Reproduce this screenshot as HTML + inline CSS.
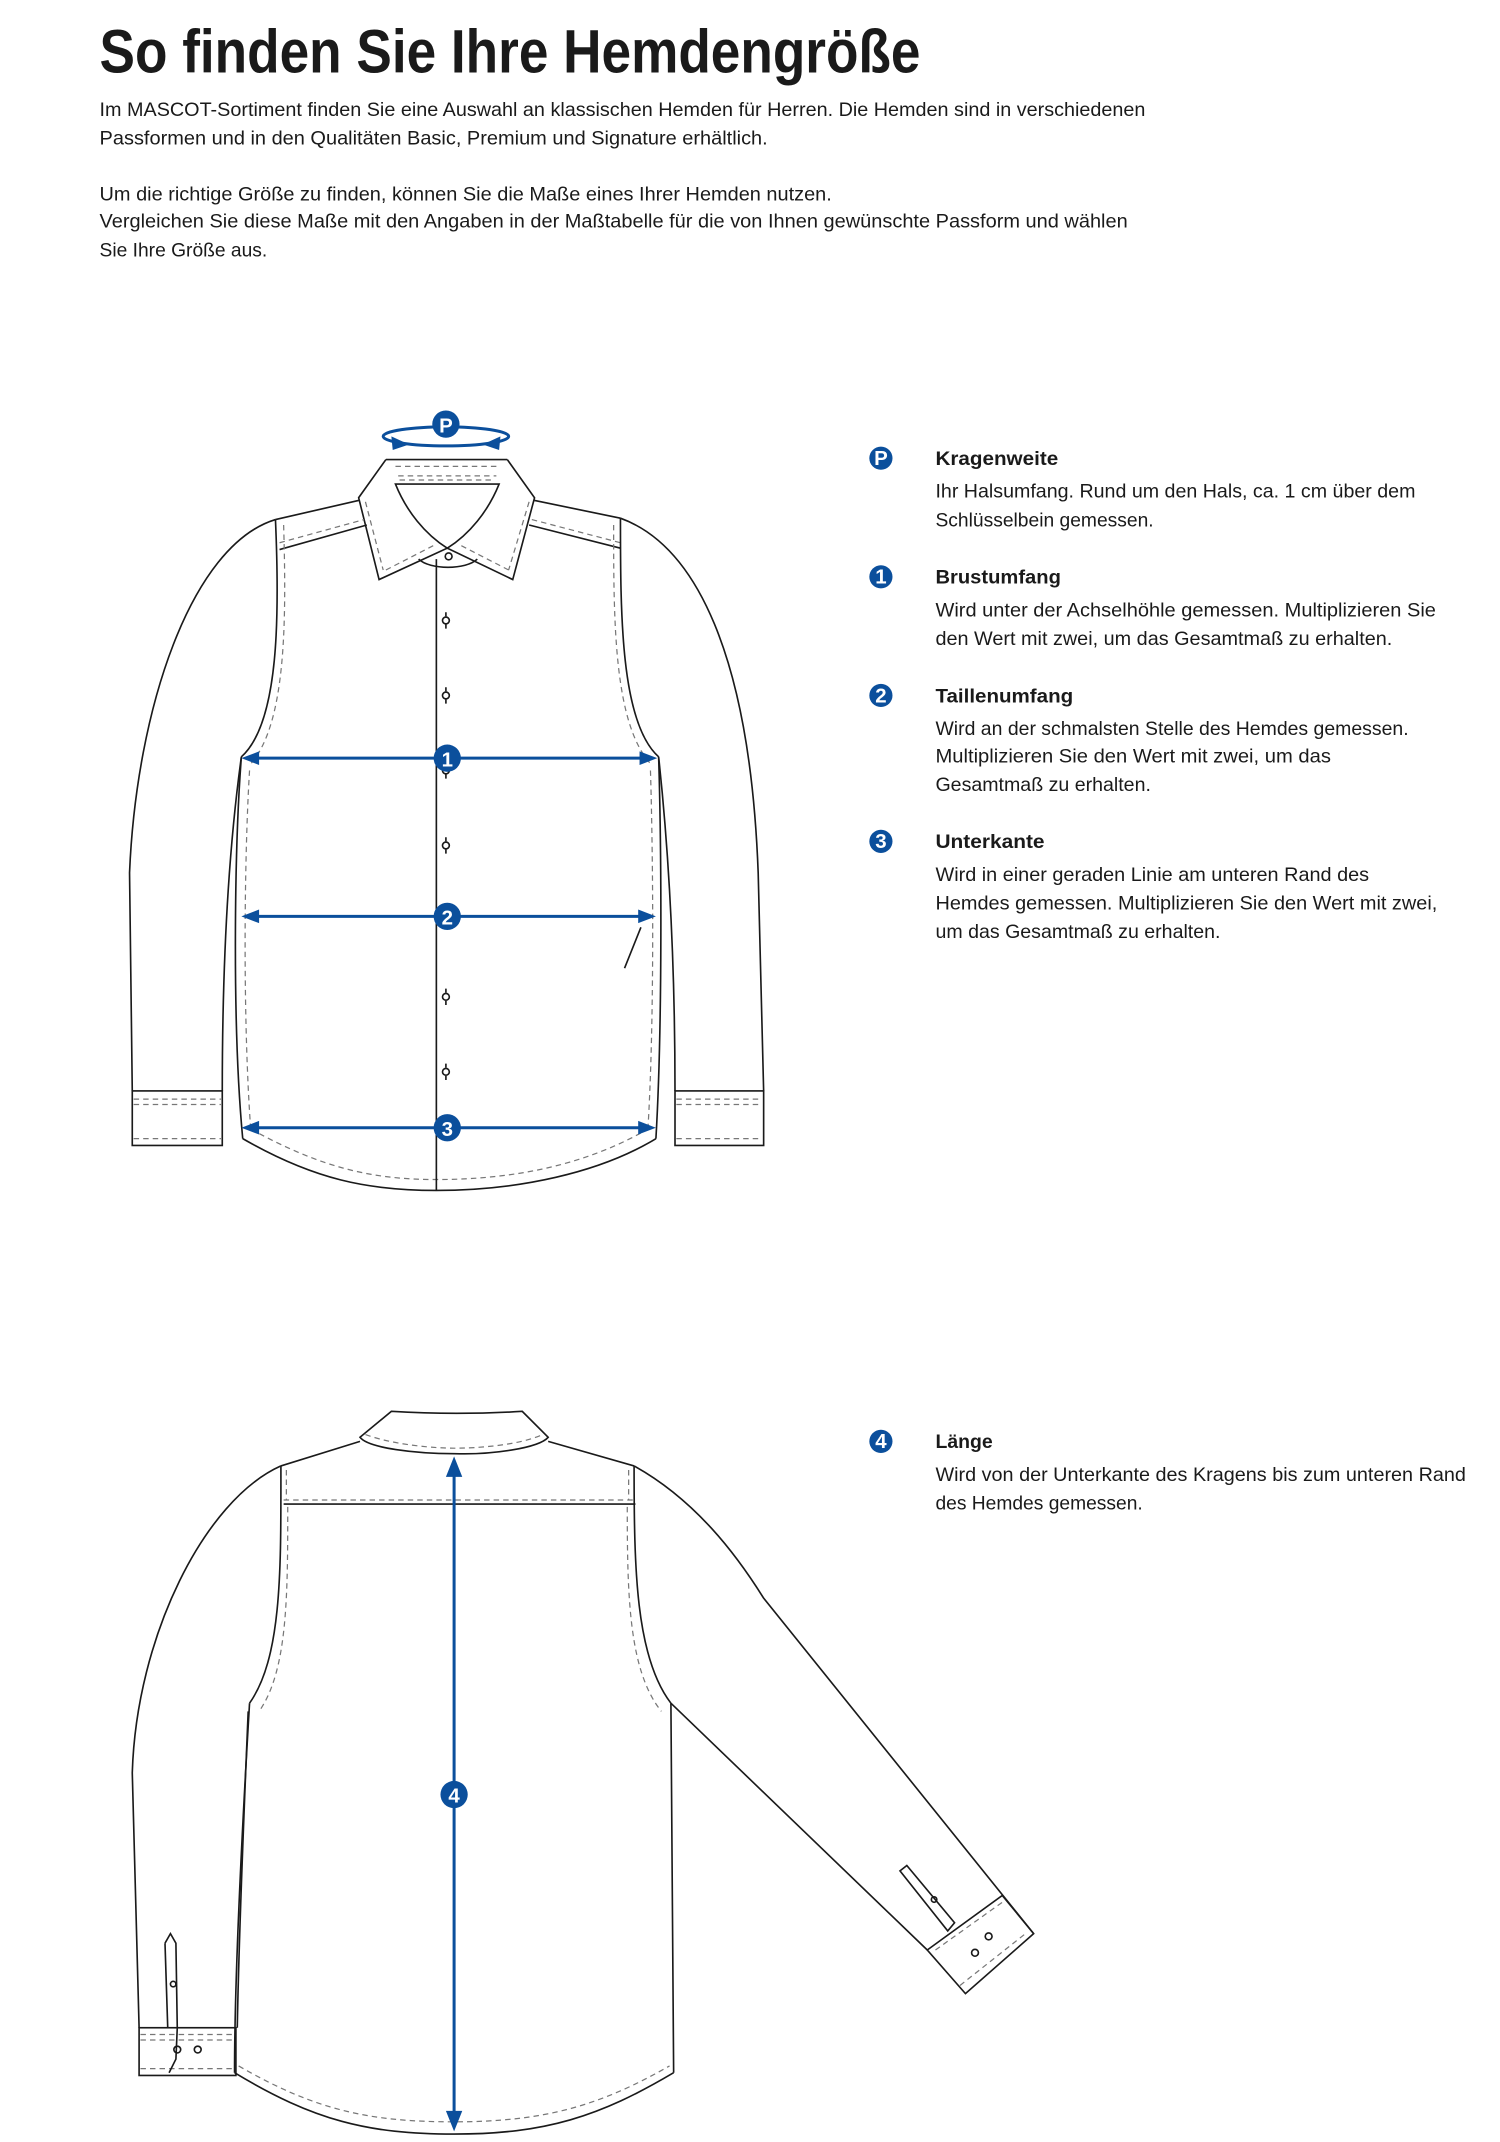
<!DOCTYPE html>
<html><head><meta charset="utf-8"><style>
html,body{margin:0;padding:0;background:#fff;width:1500px;height:2142px;overflow:hidden}
svg{display:block}
text{font-family:"Liberation Sans",sans-serif;fill:#1a1a1a}
.b{font-size:14.5px}
.h{font-size:14.5px;font-weight:bold}
.s{fill:none;stroke:#1a1a1a;stroke-width:1.2}
.d{fill:none;stroke:#777;stroke-width:0.9;stroke-dasharray:4 3}
.a{stroke:#0b4f9c;stroke-width:2.2;fill:none}
.af{fill:#0b4f9c}
.n{fill:#fff;font-weight:bold;font-size:15px;text-anchor:middle}
</style></head><body>
<svg width="1500" height="2142" viewBox="0 0 1500 2142">
<g transform="scale(1.36364)">
<text x="73" y="53" font-size="45" font-weight="bold" textLength="602" lengthAdjust="spacingAndGlyphs">So finden Sie Ihre Hemdengröße</text>
<text class="b" x="73" y="85" textLength="767" lengthAdjust="spacingAndGlyphs">Im MASCOT-Sortiment finden Sie eine Auswahl an klassischen Hemden für Herren. Die Hemden sind in verschiedenen</text>
<text class="b" x="73" y="106" textLength="490" lengthAdjust="spacingAndGlyphs">Passformen und in den Qualitäten Basic, Premium und Signature erhältlich.</text>
<text class="b" x="73" y="147" textLength="537" lengthAdjust="spacingAndGlyphs">Um die richtige Größe zu finden, können Sie die Maße eines Ihrer Hemden nutzen.</text>
<text class="b" x="73" y="167" textLength="754" lengthAdjust="spacingAndGlyphs">Vergleichen Sie diese Maße mit den Angaben in der Maßtabelle für die von Ihnen gewünschte Passform und wählen</text>
<text class="b" x="73" y="188" textLength="123" lengthAdjust="spacingAndGlyphs">Sie Ihre Größe aus.</text>

<g>
<circle cx="646" cy="336" r="8.5" class="af"/><text class="n" x="646" y="341" font-size="12">P</text>
<text class="h" x="686" y="341" textLength="90" lengthAdjust="spacingAndGlyphs">Kragenweite</text>
<text class="b" x="686" y="365" textLength="352" lengthAdjust="spacingAndGlyphs">Ihr Halsumfang. Rund um den Hals, ca. 1 cm über dem</text>
<text class="b" x="686" y="386" textLength="160" lengthAdjust="spacingAndGlyphs">Schlüsselbein gemessen.</text>

<circle cx="646" cy="423" r="8.5" class="af"/><text class="n" x="646" y="428" font-size="12">1</text>
<text class="h" x="686" y="428" textLength="92" lengthAdjust="spacingAndGlyphs">Brustumfang</text>
<text class="b" x="686" y="452" textLength="367" lengthAdjust="spacingAndGlyphs">Wird unter der Achselhöhle gemessen. Multiplizieren Sie</text>
<text class="b" x="686" y="473" textLength="335" lengthAdjust="spacingAndGlyphs">den Wert mit zwei, um das Gesamtmaß zu erhalten.</text>

<circle cx="646" cy="510" r="8.5" class="af"/><text class="n" x="646" y="515" font-size="12">2</text>
<text class="h" x="686" y="515" textLength="101" lengthAdjust="spacingAndGlyphs">Taillenumfang</text>
<text class="b" x="686" y="539" textLength="347" lengthAdjust="spacingAndGlyphs">Wird an der schmalsten Stelle des Hemdes gemessen.</text>
<text class="b" x="686" y="559" textLength="290" lengthAdjust="spacingAndGlyphs">Multiplizieren Sie den Wert mit zwei, um das</text>
<text class="b" x="686" y="580" textLength="158" lengthAdjust="spacingAndGlyphs">Gesamtmaß zu erhalten.</text>

<circle cx="646" cy="617" r="8.5" class="af"/><text class="n" x="646" y="622" font-size="12">3</text>
<text class="h" x="686" y="622" textLength="80" lengthAdjust="spacingAndGlyphs">Unterkante</text>
<text class="b" x="686" y="646" textLength="318" lengthAdjust="spacingAndGlyphs">Wird in einer geraden Linie am unteren Rand des</text>
<text class="b" x="686" y="667" textLength="368" lengthAdjust="spacingAndGlyphs">Hemdes gemessen. Multiplizieren Sie den Wert mit zwei,</text>
<text class="b" x="686" y="688" textLength="209" lengthAdjust="spacingAndGlyphs">um das Gesamtmaß zu erhalten.</text>

<circle cx="646" cy="1057" r="8.5" class="af"/><text class="n" x="646" y="1062" font-size="12">4</text>
<text class="h" x="686" y="1062" textLength="42" lengthAdjust="spacingAndGlyphs">Länge</text>
<text class="b" x="686" y="1086" textLength="389" lengthAdjust="spacingAndGlyphs">Wird von der Unterkante des Kragens bis zum unteren Rand</text>
<text class="b" x="686" y="1107" textLength="152" lengthAdjust="spacingAndGlyphs">des Hemdes gemessen.</text>
</g>

<!-- FRONT SHIRT -->
<g>
<path class="s" d="M283,337 L372,337"/>
<path class="s" d="M283,337 L263,365 L278,425 L328,402 L376,425 L392,365 L372,337"/>
<path class="s" d="M290,355 C298,375 312,392 328,402 C344,392 358,375 366,355 Z"/>
<path class="d" d="M290,342 L366,342 M292,349 L364,349 M293,352 L363,352"/>
<path class="d" d="M268,368 L281,418 M388,368 L373,418 M283,418 L318,400 M373,418 L338,400"/>
<path class="s" d="M307,410 C315,418 342,418 350,410"/>
<circle cx="329" cy="408" r="2.5" class="s"/>
<path class="s" d="M263,367 L202,381 M392,367 L455,380"/>
<path class="s" d="M205,403 L269,385 M388,385 L455,402"/>
<path class="d" d="M205,398 L267,381 M390,381 L455,398"/>
<path class="s" d="M202,381 C205,450 205,530 177,555 M455,380 C455,450 455,530 483,555"/>
<path class="d" d="M208,385 C210,455 210,530 184,560 M450,385 C450,455 450,530 477,560"/>
<path class="s" d="M177,555 C172,620 170,750 178,835 M483,555 C485,620 486,750 481,835"/>
<path class="d" d="M183,565 C179,630 178,750 184,830 M477,565 C479,630 480,750 475,830"/>
<path class="s" d="M178,835 C230,865 270,873 320,873 C380,873 440,860 481,835"/>
<path class="d" d="M184,828 C235,856 272,865 320,865 C380,865 432,853 475,828"/>
<path class="s" d="M320,410 L320,873"/>
<g class="s">
<circle cx="327" cy="455" r="2.5"/><circle cx="327" cy="510" r="2.5"/><circle cx="327" cy="565" r="2.5"/><circle cx="327" cy="620" r="2.5"/><circle cx="327" cy="731" r="2.5"/><circle cx="327" cy="786" r="2.5"/>
<path d="M327,449 v3 M327,458 v3 M327,504 v3 M327,513 v3 M327,614 v3 M327,623 v3 M327,725 v3 M327,734 v3 M327,780 v3 M327,789 v3 M327,568 v3"/>
</g>
<path class="s" d="M202,381 C140,400 100,520 95,640 L97,800 M177,555 C168,620 163,700 163,800"/>
<rect class="s" x="97" y="800" width="66" height="40"/>
<path class="d" d="M98,806 L162,806 M98,810 L162,810 M98,835 L162,835"/>
<path class="s" d="M455,380 C510,400 550,480 556,640 L560,800 M483,555 C490,620 495,700 495,800"/>
<rect class="s" x="495" y="800" width="65" height="40"/>
<path class="d" d="M496,806 L559,806 M496,810 L559,810 M496,835 L559,835"/>
<path class="s" d="M458,710 L470,680"/>
<ellipse cx="327" cy="320" rx="46" ry="7" class="a" stroke-width="1.8"/>
<path class="af" d="M300,326 l-13,-6 l1,10 z M354,326 l13,-6 l-1,10 z"/>
<circle cx="327" cy="311" r="10" class="af"/><text class="n" x="327" y="317">P</text>
<line class="a" x1="187" y1="556" x2="472" y2="556"/>
<path class="af" d="M177,556 l13,-5 v10 z M482,556 l-13,-5 v10 z"/>
<circle cx="328" cy="556" r="10" class="af"/><text class="n" x="328" y="562">1</text>
<line class="a" x1="187" y1="672" x2="471" y2="672"/>
<path class="af" d="M177,672 l13,-5 v10 z M481,672 l-13,-5 v10 z"/>
<circle cx="328" cy="672" r="10" class="af"/><text class="n" x="328" y="678">2</text>
<line class="a" x1="187" y1="827" x2="471" y2="827"/>
<path class="af" d="M177,827 l13,-5 v10 z M481,827 l-13,-5 v10 z"/>
<circle cx="328" cy="827" r="10" class="af"/><text class="n" x="328" y="833">3</text>
</g>

<!-- BACK SHIRT -->
<g>
<path class="s" d="M264,1054 L287,1035 C320,1037 350,1037 383,1035 L402,1054 C395,1062 360,1067 333,1066 C305,1066 270,1062 264,1054 Z"/>
<path class="d" d="M268,1052 C290,1060 320,1062 333,1062 C350,1062 380,1060 398,1052"/>
<path class="s" d="M264,1057 L206,1075 M402,1057 L465,1075"/>
<path class="s" d="M208,1103 L466,1103"/>
<path class="d" d="M208,1100 L466,1100 M210,1078 L210,1100 M461,1078 L461,1100"/>
<path class="s" d="M206,1075 C206,1150 207,1215 183,1249 M465,1075 C465,1150 466,1215 492,1249"/>
<path class="d" d="M211,1105 C211,1170 211,1225 190,1255 M460,1105 C460,1170 461,1225 485,1255"/>
<path class="s" d="M183,1249 C177,1350 172,1450 172,1520 M492,1249 L494,1520"/>
<path class="s" d="M172,1520 C230,1555 270,1565 333,1565 C400,1565 440,1552 494,1520"/>
<path class="d" d="M175,1515 C232,1548 272,1556 333,1556 C400,1556 440,1544 491,1515"/>
<path class="s" d="M206,1075 C150,1100 100,1200 97,1300 L102,1487 M182,1255 C178,1350 175,1430 174,1487"/>
<rect class="s" x="102" y="1487" width="71" height="35"/>
<path class="d" d="M103,1492 L172,1492 M103,1496 L172,1496 M103,1517 L172,1517"/>
<path class="s" d="M121,1425 L125,1418 L129,1425 L130,1487 L129,1510 L124,1520 M121,1425 L123,1487"/>
<circle cx="130" cy="1503" r="2.5" class="s"/><circle cx="145" cy="1503" r="2.5" class="s"/>
<circle cx="127" cy="1455" r="2" class="s"/>
<path class="s" d="M465,1075 C510,1100 540,1140 560,1172 L758,1418 M492,1249 L680,1430"/>
<path class="s" d="M680,1430 L735,1390 L758,1418 L708,1462 Z"/>
<path class="d" d="M686,1430 L735,1395 M704,1456 L752,1418"/>
<path class="s" d="M660,1372 L665,1368 L700,1410 L695,1416 Z"/>
<circle cx="715" cy="1432" r="2.5" class="s"/><circle cx="725" cy="1420" r="2.5" class="s"/><circle cx="685" cy="1393" r="2" class="s"/>
<line class="a" x1="333" y1="1080" x2="333" y2="1552"/>
<path class="af" d="M333,1068 l-6,15 h12 z M333,1563 l-6,-15 h12 z"/>
<circle cx="333" cy="1316" r="10" class="af"/><text class="n" x="333" y="1322">4</text>
</g>
</g>
</svg>
</body></html>
